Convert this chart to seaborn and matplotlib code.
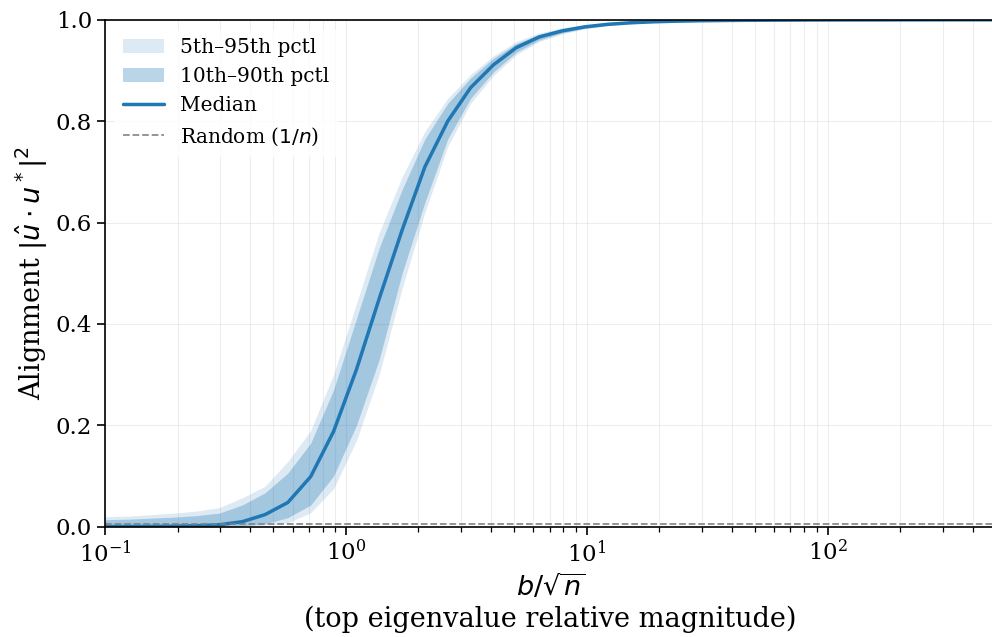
import numpy as np
import pandas as pd
import matplotlib
matplotlib.use("Agg")
import matplotlib.pyplot as plt
import seaborn as sns

# b / sqrt(n) grid (log spaced, 0.1 .. 500)
b_rel = [0.1, 0.1244, 0.1548, 0.1926, 0.2395, 0.2980, 0.3707, 0.4611, 0.5737, 0.7137,
         0.8880, 1.105, 1.374, 1.710, 2.127, 2.646, 3.292, 4.096, 5.096, 6.340,
         7.888, 9.813, 12.21, 15.19, 18.90, 23.51, 29.25, 36.39, 45.28, 56.33,
         70.08, 87.18, 108.5, 134.9, 167.9, 208.8, 259.8, 323.2, 402.1, 500.0]

median = [0.0005, 0.0006, 0.0008, 0.0012, 0.002, 0.004, 0.010, 0.024, 0.048, 0.099,
          0.188, 0.31, 0.45, 0.585, 0.71, 0.80, 0.866, 0.911, 0.945, 0.966,
          0.978, 0.986, 0.991, 0.994, 0.996, 0.9972, 0.998, 0.9985, 0.9989, 0.9991,
          0.9993, 0.9995, 0.9996, 0.9997, 0.9997, 0.9998, 0.9998, 0.9999, 0.9999, 0.9999]

p05 = [0.0, 0.0, 0.0, 0.0, 0.0001, 0.0002, 0.0008, 0.003, 0.008, 0.028,
       0.075, 0.17, 0.30, 0.47, 0.62, 0.75, 0.835, 0.890, 0.931, 0.957,
       0.972, 0.982, 0.988, 0.992, 0.994, 0.9955, 0.9967, 0.9975, 0.998, 0.9985,
       0.9988, 0.999, 0.9992, 0.9994, 0.9995, 0.9996, 0.9997, 0.9997, 0.9998, 0.9998]

p10 = [0.0001, 0.0001, 0.0001, 0.0002, 0.0003, 0.0006, 0.002, 0.006, 0.018, 0.043,
       0.10, 0.20, 0.33, 0.50, 0.64, 0.765, 0.845, 0.897, 0.936, 0.960,
       0.974, 0.983, 0.989, 0.993, 0.995, 0.9962, 0.9972, 0.9979, 0.9984, 0.9987,
       0.999, 0.9992, 0.9993, 0.9995, 0.9996, 0.9997, 0.9997, 0.9998, 0.9998, 0.9999]

p90 = [0.014, 0.015, 0.017, 0.019, 0.022, 0.027, 0.043, 0.067, 0.106, 0.165,
       0.27, 0.41, 0.55, 0.665, 0.765, 0.835, 0.885, 0.924, 0.953, 0.971,
       0.982, 0.989, 0.993, 0.995, 0.997, 0.9979, 0.9985, 0.9989, 0.9992, 0.9994,
       0.9995, 0.9996, 0.9997, 0.9998, 0.9998, 0.9999, 0.9999, 0.9999, 1.0, 1.0]

p95 = [0.020, 0.021, 0.024, 0.027, 0.031, 0.038, 0.057, 0.080, 0.129, 0.190,
       0.30, 0.44, 0.58, 0.69, 0.78, 0.845, 0.892, 0.929, 0.957, 0.974,
       0.984, 0.990, 0.994, 0.996, 0.9973, 0.9982, 0.9987, 0.9991, 0.9993, 0.9995,
       0.9996, 0.9997, 0.9998, 0.9998, 0.9999, 0.9999, 0.9999, 1.0, 1.0, 1.0]

n_dim = 200  # random baseline 1/n

df = pd.DataFrame({"b_rel": b_rel, "median": median,
                   "p05": p05, "p10": p10, "p90": p90, "p95": p95})

sns.set_style("ticks", {"axes.edgecolor": "black", "xtick.color": "black",
                        "ytick.color": "black", "text.color": "black",
                        "axes.labelcolor": "black"})
plt.rcParams["font.family"] = ["DejaVu Serif"]
plt.rcParams["mathtext.fontset"] = "dejavusans"

color = "#1f77b4"
fig = plt.figure(figsize=(9.92, 6.37), dpi=100)
ax = fig.add_axes([0.106, 0.173, 0.898, 0.796])

ax.fill_between(df["b_rel"], df["p05"], df["p95"], color=color, alpha=0.15,
                linewidth=0, label="5th\u201395th pctl")
ax.fill_between(df["b_rel"], df["p10"], df["p90"], color=color, alpha=0.3,
                linewidth=0, label="10th\u201390th pctl")
sns.lineplot(data=df, x="b_rel", y="median", color=color, linewidth=2.5,
             label="Median", ax=ax)
ax.axhline(1.0 / n_dim, color="gray", linestyle="--", linewidth=1.3, alpha=0.9,
           label="Random ($1/n$)")

ax.set_xscale("log")
ax.set_xlim(0.1, 500)
ax.set_ylim(0, 1.0)
ax.set_yticks([0.0, 0.2, 0.4, 0.6, 0.8, 1.0])
ax.grid(True, which="both", color="#dddddd", alpha=0.5, linewidth=0.8)
ax.spines["right"].set_visible(False)
for s in ["top", "left", "bottom"]:
    ax.spines[s].set_linewidth(1.2)
ax.tick_params(axis="both", which="major", labelsize=16.5, length=6, width=1.2)
ax.tick_params(axis="x", which="minor", length=3.5, width=0.9)

ax.set_xlabel("$b/\\sqrt{n}$\n(top eigenvalue relative magnitude)", fontsize=19.5)
ax.set_ylabel("Alignment $|\\hat{u}\\cdot u^*|^2$", fontsize=19.5)

ax.legend(loc="upper left", fontsize=14.5, framealpha=0.8, edgecolor="white",
          fancybox=True)

fig.savefig("out.png", dpi=100)
